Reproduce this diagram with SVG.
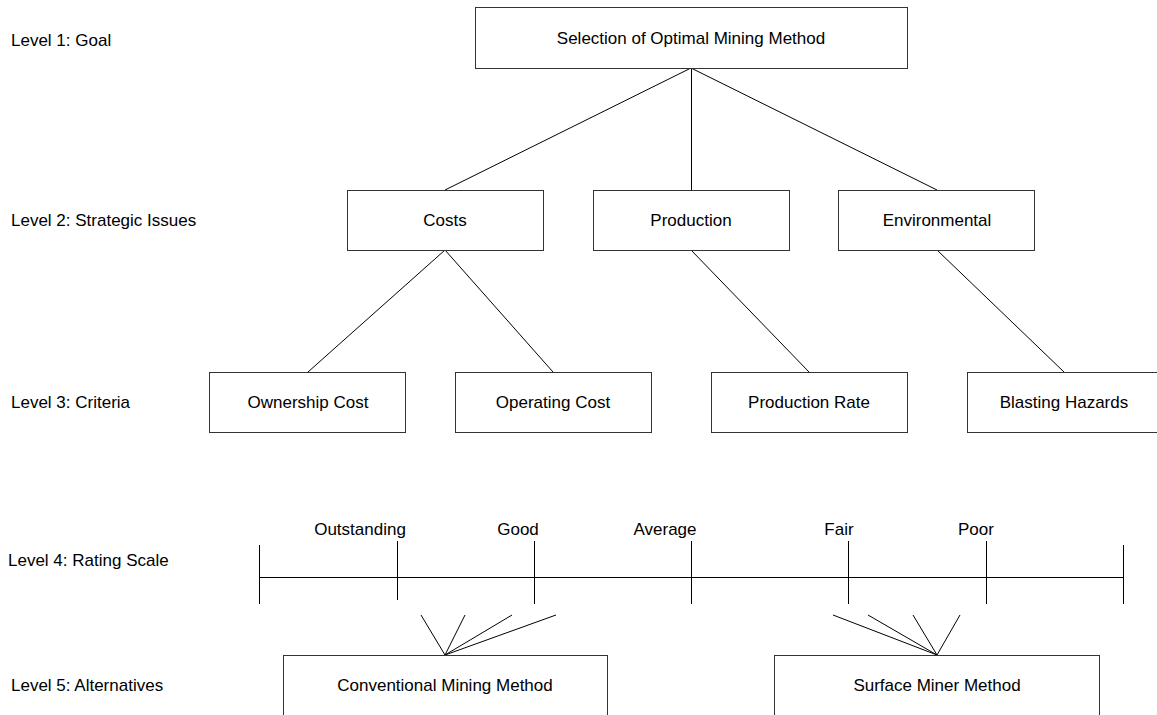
<svg xmlns="http://www.w3.org/2000/svg" width="1157" height="715" viewBox="0 0 1157 715">
<style>
  .box { fill: #ffffff; stroke: #333333; stroke-width: 1; }
  .t { font-family: "Liberation Sans", Arial, sans-serif; font-size: 17px; fill: #000000; text-anchor: middle; dominant-baseline: central; }
  .lbl { font-family: "Liberation Sans", Arial, sans-serif; font-size: 17px; fill: #000000; text-anchor: start; dominant-baseline: central; }
  .c { stroke: #000000; stroke-width: 1; fill: none; }
</style>
<rect x="0" y="0" width="1157" height="715" fill="#ffffff"/>

<g id="level-labels">
  <text class="lbl" x="11" y="40">Level 1: Goal</text>
  <text class="lbl" x="11" y="220">Level 2: Strategic Issues</text>
  <text class="lbl" x="11" y="402">Level 3: Criteria</text>
  <text class="lbl" x="8" y="560">Level 4: Rating Scale</text>
  <text class="lbl" x="11" y="685">Level 5: Alternatives</text>
</g>

<g id="connectors">
  <line class="c" x1="691" y1="68" x2="445" y2="190"/>
  <line class="c" x1="691.5" y1="68" x2="691.5" y2="190"/>
  <line class="c" x1="691" y1="68" x2="937" y2="190"/>
  <line class="c" x1="445" y1="250" x2="308" y2="372"/>
  <line class="c" x1="445" y1="250" x2="553" y2="372"/>
  <line class="c" x1="691" y1="250" x2="809" y2="372"/>
  <line class="c" x1="937" y1="250" x2="1064" y2="372"/>
  <line class="c" x1="445" y1="655" x2="421" y2="615"/>
  <line class="c" x1="445" y1="655" x2="465" y2="615"/>
  <line class="c" x1="445" y1="655" x2="512" y2="615"/>
  <line class="c" x1="445" y1="655" x2="556" y2="615"/>
  <line class="c" x1="937" y1="655" x2="833" y2="615"/>
  <line class="c" x1="937" y1="655" x2="868" y2="615"/>
  <line class="c" x1="937" y1="655" x2="913" y2="615"/>
  <line class="c" x1="937" y1="655" x2="960" y2="615"/>
</g>

<g id="goal">
  <rect class="box" x="475.5" y="7.5" width="432" height="61"/>
  <text class="t" x="691" y="38">Selection of Optimal Mining Method</text>
</g>

<g id="costs">
  <rect class="box" x="347.5" y="190.5" width="196" height="60"/>
  <text class="t" x="445" y="220">Costs</text>
</g>
<g id="production">
  <rect class="box" x="593.5" y="190.5" width="196" height="60"/>
  <text class="t" x="691" y="220">Production</text>
</g>
<g id="environmental">
  <rect class="box" x="838.5" y="190.5" width="196" height="60"/>
  <text class="t" x="937" y="220">Environmental</text>
</g>

<g id="ownership-cost">
  <rect class="box" x="209.5" y="372.5" width="196" height="60"/>
  <text class="t" x="308" y="402">Ownership Cost</text>
</g>
<g id="operating-cost">
  <rect class="box" x="455.5" y="372.5" width="196" height="60"/>
  <text class="t" x="553" y="402">Operating Cost</text>
</g>
<g id="production-rate">
  <rect class="box" x="711.5" y="372.5" width="196" height="60"/>
  <text class="t" x="809" y="402">Production Rate</text>
</g>
<g id="blasting-hazards">
  <rect class="box" x="967.5" y="372.5" width="196" height="60"/>
  <text class="t" x="1064" y="402">Blasting Hazards</text>
</g>

<g id="rating-scale">
  <line class="c" x1="259" y1="577.5" x2="1124" y2="577.5"/>
  <line class="c" x1="259.5" y1="545" x2="259.5" y2="604"/>
  <line class="c" x1="397.5" y1="541" x2="397.5" y2="600"/>
  <line class="c" x1="534.5" y1="541" x2="534.5" y2="604"/>
  <line class="c" x1="691.5" y1="541" x2="691.5" y2="604"/>
  <line class="c" x1="848.5" y1="541" x2="848.5" y2="604"/>
  <line class="c" x1="986.5" y1="541" x2="986.5" y2="604"/>
  <line class="c" x1="1123.5" y1="545" x2="1123.5" y2="604"/>
  <text class="t" x="360" y="529">Outstanding</text>
  <text class="t" x="518" y="529">Good</text>
  <text class="t" x="665" y="529">Average</text>
  <text class="t" x="839" y="529">Fair</text>
  <text class="t" x="976" y="529">Poor</text>
</g>

<g id="conventional">
  <rect class="box" x="283.5" y="655.5" width="324" height="80"/>
  <text class="t" x="445" y="685">Conventional Mining Method</text>
</g>
<g id="surface-miner">
  <rect class="box" x="774.5" y="655.5" width="325" height="80"/>
  <text class="t" x="937" y="685">Surface Miner Method</text>
</g>
</svg>
